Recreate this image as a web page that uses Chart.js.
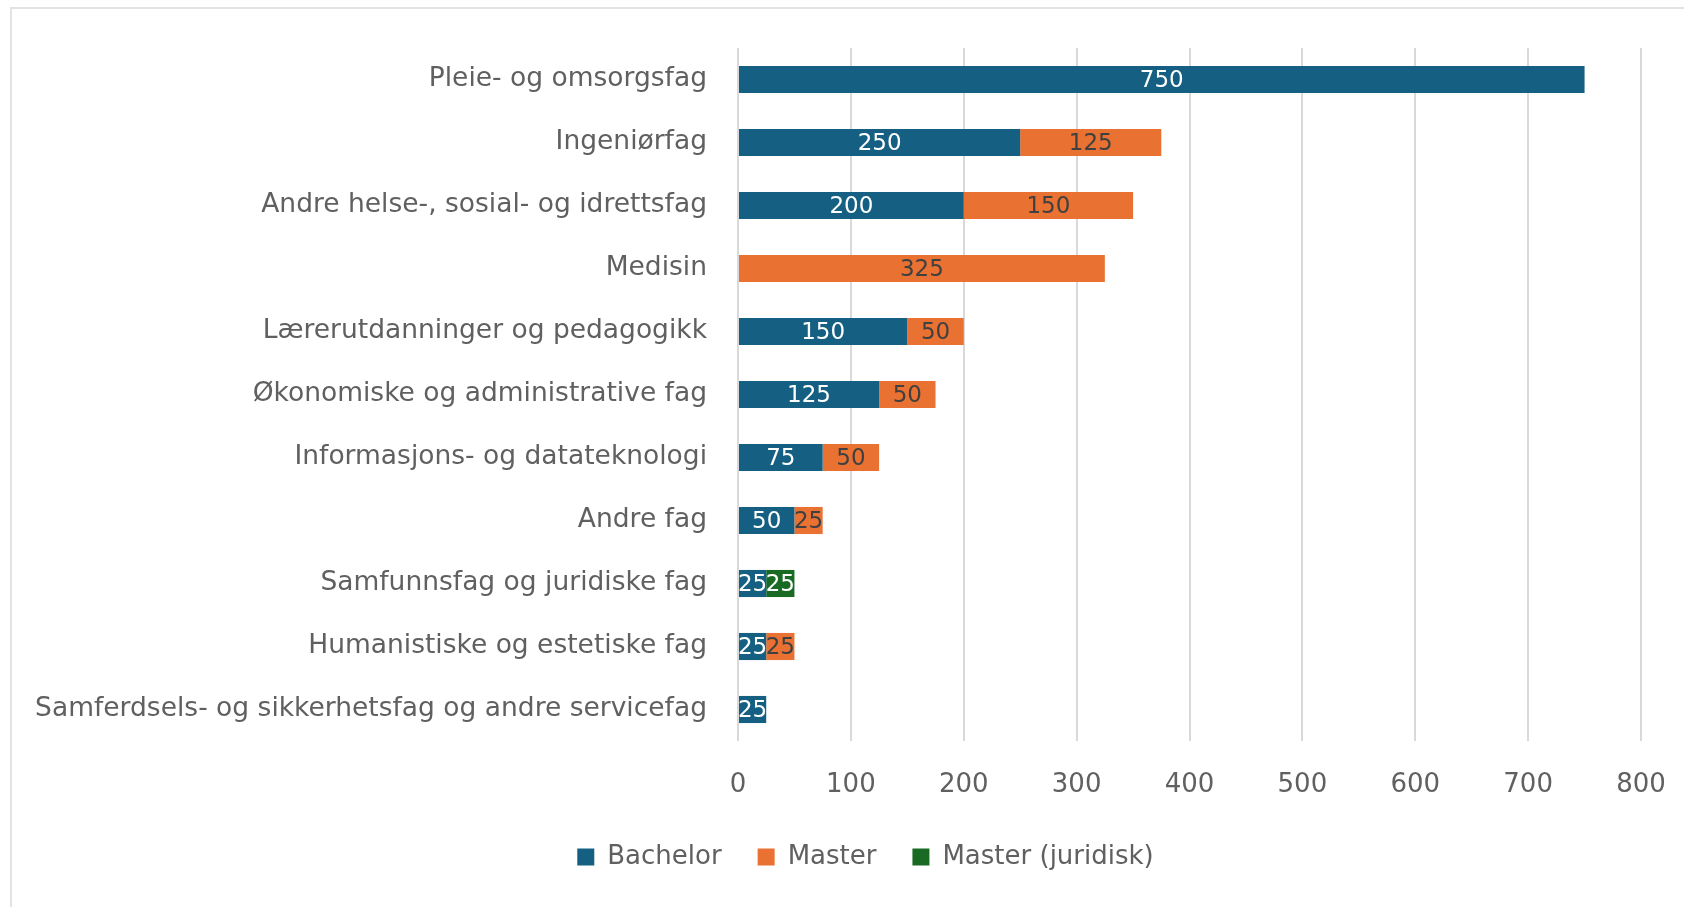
<!DOCTYPE html>
<html>
<head>
<meta charset="utf-8">
<script src="https://cdn.jsdelivr.net/npm/chart.js@4.4.1/dist/chart.umd.min.js"></script>
<style>
  html, body { margin: 0; padding: 0; background: #fff; overflow: hidden; }
  #wrap { position: relative; width: 1684px; height: 907px; }
  #frame { position: absolute; left: 10px; top: 7px; width: 1700px; height: 920px; border: 2px solid #e3e3e3; box-sizing: border-box; }
  canvas { position: absolute; left: 0; top: 0; }
</style>
</head>
<body>
<div id="wrap">
  <div id="frame"></div>
  <canvas id="studyChart" width="1684" height="907"></canvas>
</div>
<script>
// categories (top to bottom)
var fields = ['Pleie- og omsorgsfag', 'Ingeniørfag', 'Andre helse-, sosial- og idrettsfag', 'Medisin',
    'Lærerutdanninger og pedagogikk', 'Økonomiske og administrative fag', 'Informasjons- og datateknologi',
    'Andre fag', 'Samfunnsfag og juridiske fag', 'Humanistiske og estetiske fag',
    'Samferdsels- og sikkerhetsfag og andre servicefag'];

var bachelor = [750, 250, 200, 0, 150, 125, 75, 50, 25, 25, 25];
var master = [0, 125, 150, 325, 50, 50, 50, 25, 0, 25, 0];
var masterJur = [0, 0, 0, 0, 0, 0, 0, 0, 25, 0, 0];

var xTicks = [0, 100, 200, 300, 400, 500, 600, 700, 800];

var FONT = "'DejaVu Sans', sans-serif";
var GREY = '#606060';

// draws the value in the middle of each bar segment
var barLabels = {
    id: 'barLabels',
    afterDatasetsDraw: function(chart) {
        var ctx = chart.ctx;
        ctx.save();
        ctx.font = '23px ' + FONT;
        ctx.textAlign = 'center';
        ctx.textBaseline = 'middle';
        chart.data.datasets.forEach(function(ds, i) {
            var meta = chart.getDatasetMeta(i);
            meta.data.forEach(function(bar, j) {
                var v = ds.data[j];
                if (!v) return;
                var p = bar.getCenterPoint();
                ctx.fillStyle = ds.labelColor;
                ctx.fillText(v, p.x, p.y + 2);
            });
        });
        ctx.restore();
    }
};

// legend sits a bit right of the canvas centre in the original
var legendShift = {
    id: 'legendShift',
    afterLayout: function(chart) {
        chart.legend.left += 45;
        chart.legend.right += 45;
    }
};

var ctx = document.getElementById('studyChart').getContext('2d');
var chart = new Chart(ctx, {
    type: 'bar',
    data: {
        labels: fields,
        datasets: [
            { label: 'Bachelor', data: bachelor, backgroundColor: '#156082', labelColor: '#ffffff' },
            { label: 'Master', data: master, backgroundColor: '#E97132', labelColor: '#404040' },
            { label: 'Master (juridisk)', data: masterJur, backgroundColor: '#196B24', labelColor: '#ffffff' }
        ]
    },
    options: {
        indexAxis: 'y',
        responsive: false,
        animation: false,
        barPercentage: 0.43,
        categoryPercentage: 1,
        layout: { padding: { left: 0, right: 43, top: 48, bottom: 27 } },
        scales: {
            x: {
                stacked: true,
                min: 0,
                max: 800,
                afterBuildTicks: function(scale) {
                    scale.ticks = xTicks.map(function(v) { return { value: v }; });
                },
                afterFit: function(scale) {
                    scale.height = 67;
                    scale.paddingLeft = 0;
                    scale.paddingRight = 0;
                },
                grid: { color: '#d9d9d9', lineWidth: 2, drawTicks: false },
                border: { display: false },
                ticks: { color: GREY, font: { family: FONT, size: 26 }, padding: 29 }
            },
            y: {
                stacked: true,
                afterFit: function(scale) { scale.width = 738; },
                grid: { display: false, drawTicks: false },
                border: { display: false },
                ticks: { color: GREY, font: { family: FONT, size: 26.5 }, padding: 31 }
            }
        },
        plugins: {
            legend: {
                position: 'bottom',
                labels: {
                    color: GREY,
                    font: { family: FONT, size: 26 },
                    boxWidth: 17,
                    boxHeight: 17,
                    padding: 36
                }
            },
            tooltip: { enabled: false }
        }
    },
    plugins: [barLabels, legendShift]
});
</script>
</body>
</html>
